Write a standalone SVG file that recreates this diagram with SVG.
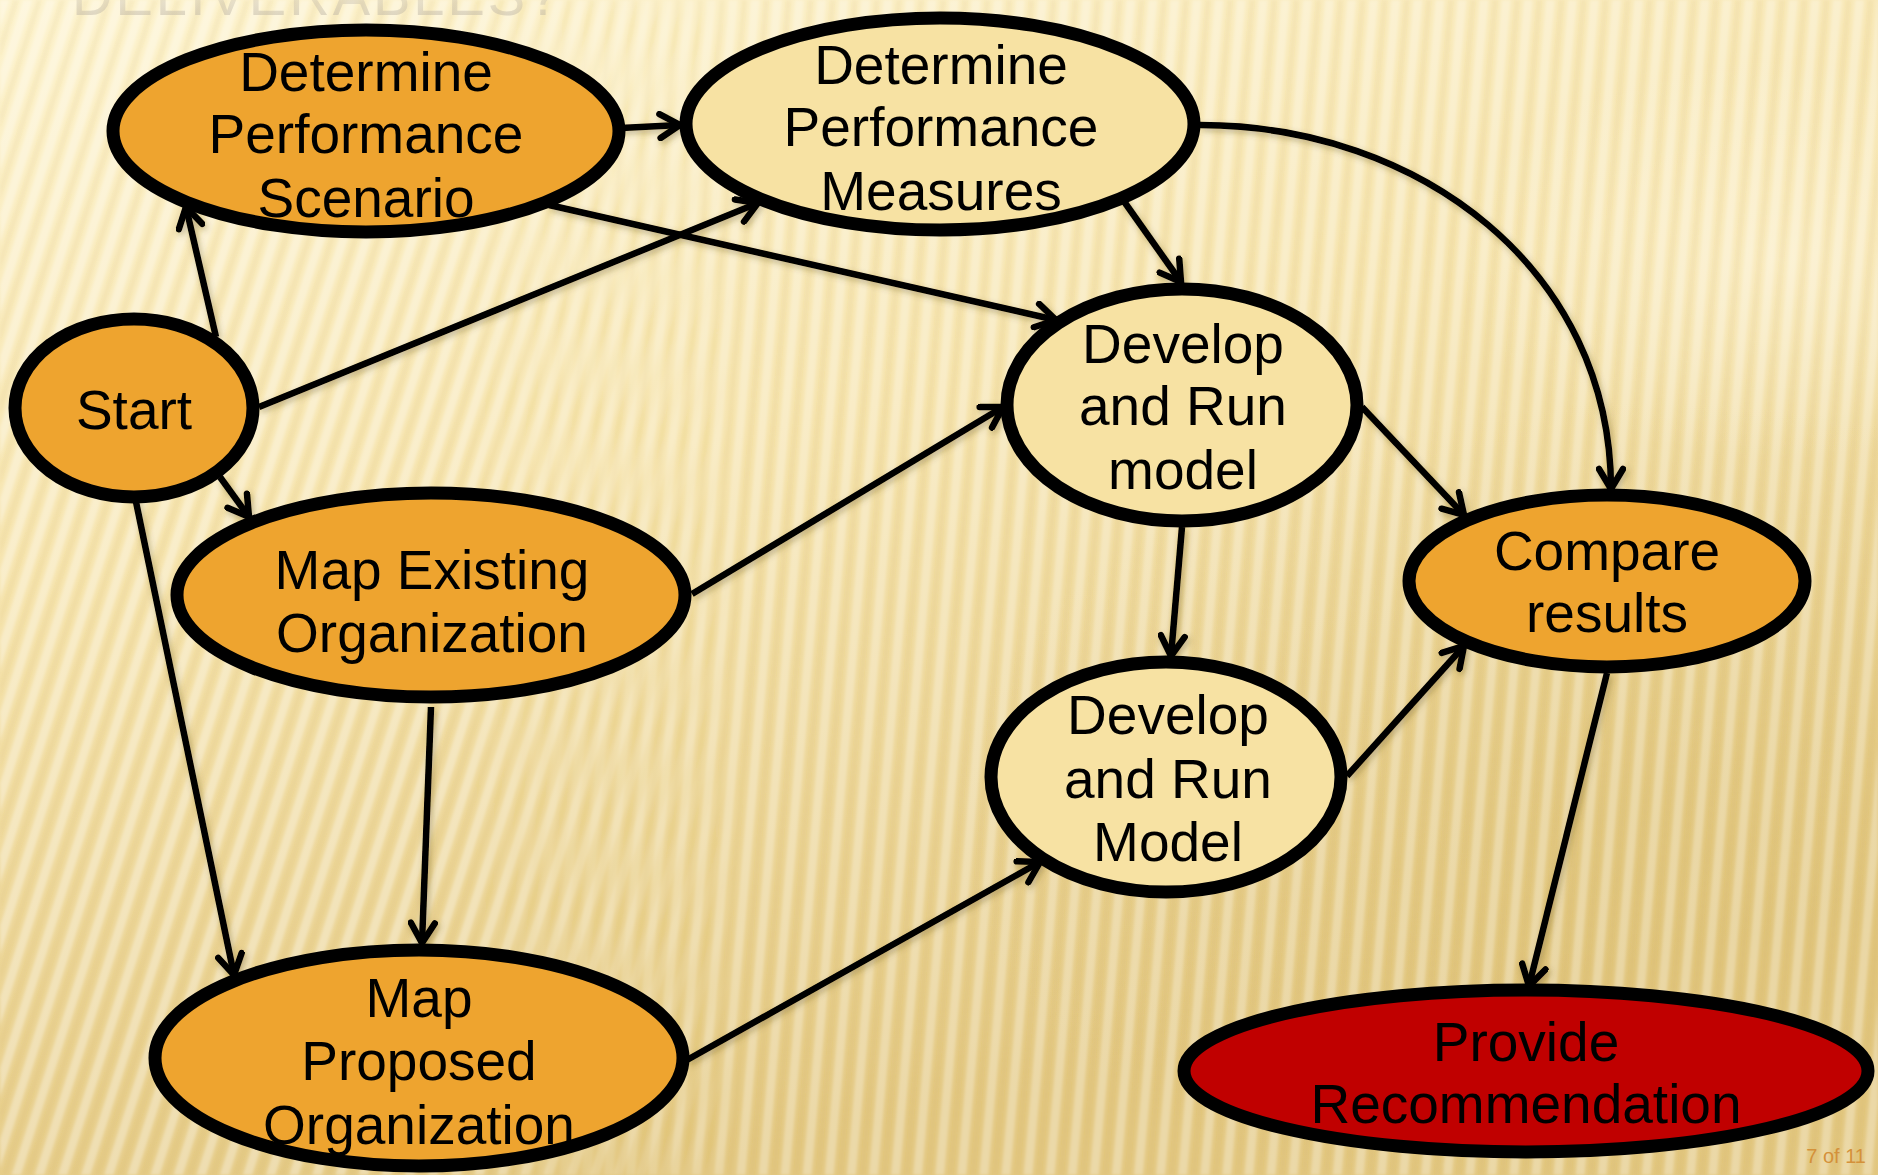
<svg xmlns="http://www.w3.org/2000/svg" width="1878" height="1175" viewBox="0 0 1878 1175">
  <defs>
    <linearGradient id="bg" x1="0" y1="0" x2="0.35" y2="1">
      <stop offset="0" stop-color="#FDF3CE"/>
      <stop offset="0.45" stop-color="#F6E4AE"/>
      <stop offset="1" stop-color="#E3C882"/>
    </linearGradient>
    <radialGradient id="glow" cx="0.5" cy="0.5" r="0.5">
      <stop offset="0" stop-color="#FFF6D8" stop-opacity="0.5"/>
      <stop offset="1" stop-color="#FFF6D8" stop-opacity="0"/>
    </radialGradient>
    <radialGradient id="shade" cx="0.5" cy="0.5" r="0.5">
      <stop offset="0" stop-color="#D9BC6C" stop-opacity="0.35"/>
      <stop offset="1" stop-color="#D9BC6C" stop-opacity="0"/>
    </radialGradient>
    <pattern id="stripesSteep" width="22" height="60" patternUnits="userSpaceOnUse" patternTransform="rotate(18)">
      <rect x="0" y="0" width="9" height="60" fill="#FFFFFF" opacity="0.34"/>
      <rect x="13" y="0" width="5" height="60" fill="#B8932F" opacity="0.08"/>
    </pattern>
    <pattern id="stripes" width="22" height="60" patternUnits="userSpaceOnUse" patternTransform="rotate(5)">
      <rect x="0" y="0" width="9" height="60" fill="#FFFFFF" opacity="0.30"/>
      <rect x="13" y="0" width="5" height="60" fill="#B8932F" opacity="0.08"/>
    </pattern>
    <linearGradient id="leftFade" x1="0" y1="0" x2="1" y2="0">
      <stop offset="0" stop-color="#fff" stop-opacity="1"/>
      <stop offset="0.25" stop-color="#fff" stop-opacity="1"/>
      <stop offset="0.4" stop-color="#fff" stop-opacity="0"/>
    </linearGradient>
    <mask id="leftMask">
      <rect width="1878" height="1175" fill="url(#leftFade)"/>
    </mask>
    <linearGradient id="rightFade" x1="0" y1="0" x2="1" y2="0">
      <stop offset="0.25" stop-color="#fff" stop-opacity="0"/>
      <stop offset="0.4" stop-color="#fff" stop-opacity="1"/>
    </linearGradient>
    <mask id="rightMask">
      <rect width="1878" height="1175" fill="url(#rightFade)"/>
    </mask>
    <filter id="soft">
      <feGaussianBlur stdDeviation="1.6"/>
    </filter>
    <linearGradient id="titleFade" x1="0" y1="0" x2="0" y2="1">
      <stop offset="0" stop-color="#D2CABC" stop-opacity="0.1"/>
      <stop offset="1" stop-color="#B5AC9C" stop-opacity="0.55"/>
    </linearGradient>
    <filter id="shadow" x="-20%" y="-20%" width="140%" height="140%">
      <feDropShadow dx="2" dy="3" stdDeviation="3" flood-color="#5A4A20" flood-opacity="0.35"/>
    </filter>
    <marker id="arrow" viewBox="0 0 30 30" refX="26" refY="15" markerWidth="30" markerHeight="30" markerUnits="userSpaceOnUse" orient="auto">
      <path d="M6,3 L26,15 L6,27" fill="none" stroke="#000" stroke-width="6.5" stroke-linecap="round" stroke-linejoin="miter"/>
    </marker>
    <style>
      .node ellipse { stroke: #000; stroke-width: 13; }
      .orange { fill: #EEA42F; }
      .pale { fill: #F7E2A3; }
      .red { fill: #C00000; }
      .node text { font-family: "Liberation Sans", Arial, sans-serif; font-size: 55px; fill: #000; text-anchor: middle; }
      .edge { fill: none; stroke: #000; stroke-width: 6.5; marker-end: url(#arrow); }
    </style>
  </defs>

  <!-- backdrop -->
  <rect width="1878" height="1175" fill="url(#bg)"/>
  <ellipse cx="1780" cy="260" rx="330" ry="200" fill="url(#glow)"/>
  <ellipse cx="1650" cy="820" rx="700" ry="420" fill="url(#shade)"/>
  <g filter="url(#soft)">
    <rect width="1878" height="1175" fill="url(#stripesSteep)" mask="url(#leftMask)"/>
    <rect width="1878" height="1175" fill="url(#stripes)" mask="url(#rightMask)"/>
  </g>

  <!-- slide title, mostly above the frame -->
  <text x="72" y="15" font-family="Liberation Sans, Arial, sans-serif" font-size="56" letter-spacing="3" fill="url(#titleFade)">DELIVERABLES?</text>

  <!-- connectors -->
  <g id="connectors" filter="url(#shadow)">
    <path class="edge" d="M216,337 L186,207"/>
    <path class="edge" d="M259,407 L758,203"/>
    <path class="edge" d="M220,477 L249,517"/>
    <path class="edge" d="M135,497 L234,975"/>
    <path class="edge" d="M621,128 L680,125"/>
    <path class="edge" d="M549,205 L1056,320"/>
    <path class="edge" d="M1123,200 L1181,282"/>
    <path class="edge" d="M1200,125 C1420,125 1611,270 1611,489"/>
    <path class="edge" d="M692,594 L1003,407"/>
    <path class="edge" d="M431,707 L422,943"/>
    <path class="edge" d="M1182,527 L1171,656"/>
    <path class="edge" d="M1362,407 L1464,515"/>
    <path class="edge" d="M1347,776 L1464,646"/>
    <path class="edge" d="M687,1060 L1040,862"/>
    <path class="edge" d="M1607,673 L1529,986"/>
  </g>

  <!-- nodes -->
  <g id="node-scenario" class="node">
    <ellipse class="orange" cx="366" cy="131" rx="253" ry="101"/>
    <text x="366" y="91">Determine</text>
    <text x="366" y="153">Performance</text>
    <text x="366" y="217">Scenario</text>
  </g>
  <g id="node-measures" class="node">
    <ellipse class="pale" cx="940" cy="124" rx="254" ry="106"/>
    <text x="941" y="84">Determine</text>
    <text x="941" y="146">Performance</text>
    <text x="941" y="210">Measures</text>
  </g>
  <g id="node-start" class="node">
    <ellipse class="orange" cx="134" cy="408" rx="119" ry="89"/>
    <text x="134" y="429">Start</text>
  </g>
  <g id="node-existing" class="node">
    <ellipse class="orange" cx="431" cy="595" rx="254" ry="102"/>
    <text x="432" y="589">Map Existing</text>
    <text x="432" y="652">Organization</text>
  </g>
  <g id="node-proposed" class="node">
    <ellipse class="orange" cx="419" cy="1058" rx="264" ry="108"/>
    <text x="419" y="1017">Map</text>
    <text x="419" y="1080">Proposed</text>
    <text x="419" y="1144">Organization</text>
  </g>
  <g id="node-model-a" class="node">
    <ellipse class="pale" cx="1182" cy="405" rx="175" ry="116"/>
    <text x="1183" y="363">Develop</text>
    <text x="1183" y="425">and Run</text>
    <text x="1183" y="489">model</text>
  </g>
  <g id="node-model-b" class="node">
    <ellipse class="pale" cx="1166" cy="777" rx="175" ry="115"/>
    <text x="1168" y="734">Develop</text>
    <text x="1168" y="798">and Run</text>
    <text x="1168" y="861">Model</text>
  </g>
  <g id="node-compare" class="node">
    <ellipse class="orange" cx="1607" cy="581" rx="198" ry="86"/>
    <text x="1607" y="570">Compare</text>
    <text x="1607" y="632">results</text>
  </g>
  <g id="node-recommend" class="node">
    <ellipse class="red" cx="1526" cy="1071" rx="342" ry="81"/>
    <text x="1526" y="1061">Provide</text>
    <text x="1526" y="1123">Recommendation</text>
  </g>

  <!-- page counter -->
  <text x="1866" y="1163" font-family="Liberation Sans, Arial, sans-serif" font-size="20" fill="#D4913A" text-anchor="end">7 of 11</text>
</svg>
